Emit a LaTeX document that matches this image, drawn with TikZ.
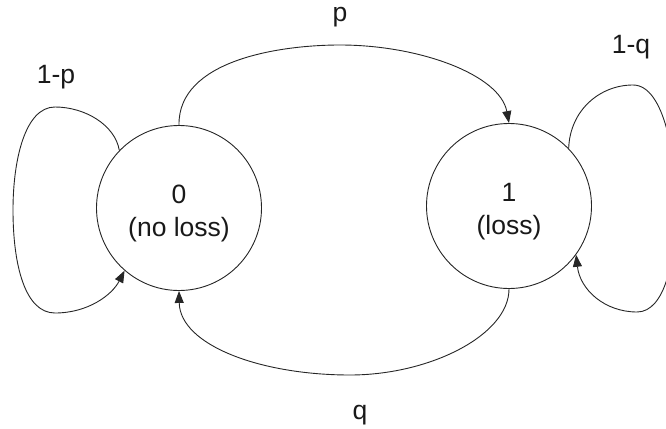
\documentclass[tikz,border=0pt]{standalone}
\usepackage{fontspec}
\setmainfont{Liberation Sans}
\usetikzlibrary{arrows.meta}
\begin{document}
\begin{tikzpicture}[x=1pt,y=-1pt,
  state/.style={draw=black!85, line width=0.9pt, circle, minimum size=165pt, inner sep=0pt},
  lbl/.style={font=\fontsize{26.5}{30}\selectfont, text=black!90, anchor=base, inner sep=0pt},
  edge/.style={draw=black!85, line width=0.9pt, -{Triangle[length=12pt,width=9pt]}}]
\useasboundingbox (0,0) rectangle (666,428);
\clip (0,0) rectangle (666,428);
\node[state] (L) at (179,208) {};
\node[state] (R) at (509,206) {};
\node[lbl] (L0) at (179,203) {0};
\node[lbl] (L1) at (179,236) {(no loss)};
\node[lbl] (R0) at (509,201) {1};
\node[lbl] (R1) at (509,234) {(loss)};
\node[lbl] (P) at (340,22) {p};
\node[lbl] (Q) at (360,419) {q};
\node[lbl] (LP) at (56,83) {1-p};
\node[lbl] (LQ) at (631,53) {1-q};
% top arc
\draw[edge] (L.north) .. controls (178,60) and (280,45) .. (340,45)
  .. controls (420,45) and (500,75) .. (R.north);
% bottom arc
\draw[edge] (R.south) .. controls (509,335) and (430,375) .. (350,375)
  .. controls (260,375) and (180,345) .. (L.south);
% left self loop
\draw[edge] (L.136) .. controls (115,125) and (85,107) .. (55,107)
  .. controls (25,107) and (13,160) .. (13,210)
  .. controls (13,265) and (25,313) .. (55,313)
  .. controls (88,313) and (112,295) .. (L.229);
% right self loop
\draw[edge] (R.44) .. controls (570,110) and (600,85) .. (633,85)
  .. controls (665,85) and (676,160) .. (676,205)
  .. controls (676,260) and (665,312) .. (637,312)
  .. controls (605,312) and (580,290) .. (R.-36);
\end{tikzpicture}
\end{document}
